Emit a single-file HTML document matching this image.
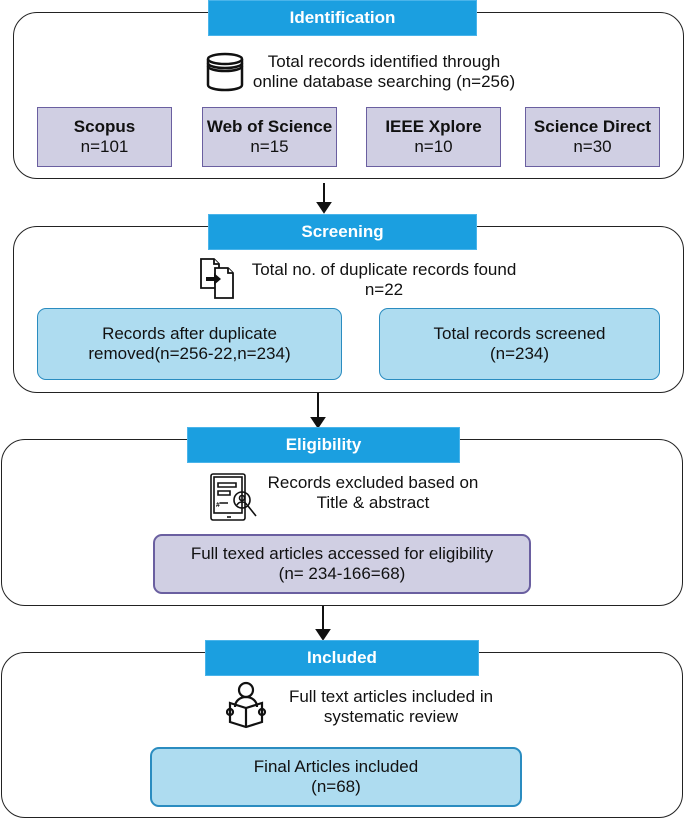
<!DOCTYPE html>
<html><head><style>
body{margin:0;width:685px;height:820px;background:#fff;font-family:"Liberation Sans",sans-serif;position:relative;overflow:hidden}
.a{position:absolute;box-sizing:border-box}
.fr{border:1.5px solid #222;border-radius:24px}
.hd{background:#1b9fe0;border:1px solid #4ab4ea;color:#fff;font-weight:bold;font-size:17px;display:flex;align-items:center;justify-content:center}
.pb{background:#d0cfe3;border:1.5px solid #6a5fa0;display:flex;flex-direction:column;align-items:center;justify-content:center;text-align:center;font-size:17px;color:#111;line-height:20px;white-space:nowrap}
.cb{background:#aedcf0;border:1.5px solid #2a8cc0;border-radius:9px;display:flex;flex-direction:column;align-items:center;justify-content:center;text-align:center;font-size:17px;color:#111;line-height:20px;white-space:nowrap}
.t{font-size:17px;color:#111;text-align:center;line-height:20px;white-space:nowrap}
</style></head><body>
<div class="a fr" style="left:13px;top:12px;width:671px;height:167px"></div>
<div class="a hd" style="left:208px;top:0;width:269px;height:36px">Identification</div>
<svg class="a" style="left:205px;top:52px" width="40" height="40" viewBox="0 0 40 40"><g fill="none" stroke="#111" stroke-width="2.5"><ellipse cx="20" cy="7" rx="17" ry="5"/><path d="M3 7v26c0 3 8 5 17 5s17-2 17-5V7"/><path d="M3 11c0 3 8 5 17 5s17-2 17-5M3 14c0 3 8 5 17 5s17-2 17-5"/></g></svg>
<div class="a t" style="left:234px;top:52px;width:300px">Total records identified through<br>online database searching (n=256)</div>
<div class="a pb" style="left:37px;top:107px;width:135px;height:60px"><b>Scopus</b>n=101</div>
<div class="a pb" style="left:202px;top:107px;width:135px;height:60px"><b>Web of Science</b>n=15</div>
<div class="a pb" style="left:366px;top:107px;width:135px;height:60px"><b>IEEE Xplore</b>n=10</div>
<div class="a pb" style="left:525px;top:107px;width:135px;height:60px"><b>Science Direct</b>n=30</div>

<svg class="a" style="left:0;top:0" width="685" height="820"><g stroke="#111" stroke-width="2" fill="#111">
<line x1="324" y1="183" x2="324" y2="205"/><path d="M318 203l6 9 6-9z"/>
<line x1="318" y1="392" x2="318" y2="420"/><path d="M312 418l6 9 6-9z"/>
<line x1="323" y1="606" x2="323" y2="632"/><path d="M317 630l6 9 6-9z"/>
</g></svg>

<div class="a fr" style="left:13px;top:226px;width:671px;height:167px"></div>
<div class="a hd" style="left:208px;top:214px;width:269px;height:36px">Screening</div>
<svg class="a" style="left:200px;top:258px" width="42" height="42" viewBox="0 0 42 42"><g fill="#fff" stroke="#111" stroke-width="1.8"><path d="M1 1h13l5 5v24H1z"/><path d="M14 1v5h5"/><path d="M15 10h13l5 5v25H15z"/><path d="M28 10v5h5"/></g><path d="M6 19h8v-4l7 6-7 6v-4H6z" fill="#111"/></svg>
<div class="a t" style="left:234px;top:260px;width:300px">Total no. of duplicate records found<br>n=22</div>
<div class="a cb" style="left:37px;top:308px;width:305px;height:72px">Records after duplicate<br>removed(n=256-22,n=234)</div>
<div class="a cb" style="left:379px;top:308px;width:281px;height:72px">Total records screened<br>(n=234)</div>

<div class="a fr" style="left:1px;top:439px;width:682px;height:167px"></div>
<div class="a hd" style="left:187px;top:427px;width:273px;height:36px">Eligibility</div>
<svg class="a" style="left:210px;top:473px" width="52" height="50" viewBox="0 0 52 50"><g fill="none" stroke="#111" stroke-width="1.6"><rect x="1" y="1" width="34" height="46" rx="2"/><rect x="4" y="4" width="28" height="36"/><path d="M8 10h18v4H8zM8 18h12v4H8zM10 30h8"/><circle cx="32" cy="27" r="8"/><circle cx="32" cy="25" r="2.5"/><path d="M27 32c2-4 8-4 10 0M38 33l8 10"/><path d="M17 44h4"/></g><text x="6" y="34" font-size="7" font-family="Liberation Sans" font-weight="bold">#</text></svg>
<div class="a t" style="left:253px;top:473px;width:240px">Records excluded based on<br>Title &amp; abstract</div>
<div class="a pb" style="left:153px;top:534px;width:378px;height:60px;border-radius:9px;border-width:2px">Full texed articles accessed for eligibility<br>(n= 234-166=68)</div>

<div class="a fr" style="left:1px;top:652px;width:682px;height:166px"></div>
<div class="a hd" style="left:205px;top:640px;width:274px;height:36px">Included</div>
<svg class="a" style="left:226px;top:681px" width="44" height="48" viewBox="0 0 44 48"><g fill="none" stroke="#111" stroke-width="2.2"><circle cx="20" cy="9" r="7"/><path d="M9 26c0-6 5-10 11-10s11 4 11 10"/><path d="M4 22l16 5 16-5v19l-16 5-16-5z"/><path d="M20 27v19"/><circle cx="4" cy="31" r="3"/><circle cx="36" cy="31" r="3"/></g></svg>
<div class="a t" style="left:271px;top:687px;width:240px">Full text articles included in<br>systematic review</div>
<div class="a cb" style="left:150px;top:747px;width:372px;height:60px;border-width:2px">Final Articles included<br>(n=68)</div>
</body></html>
